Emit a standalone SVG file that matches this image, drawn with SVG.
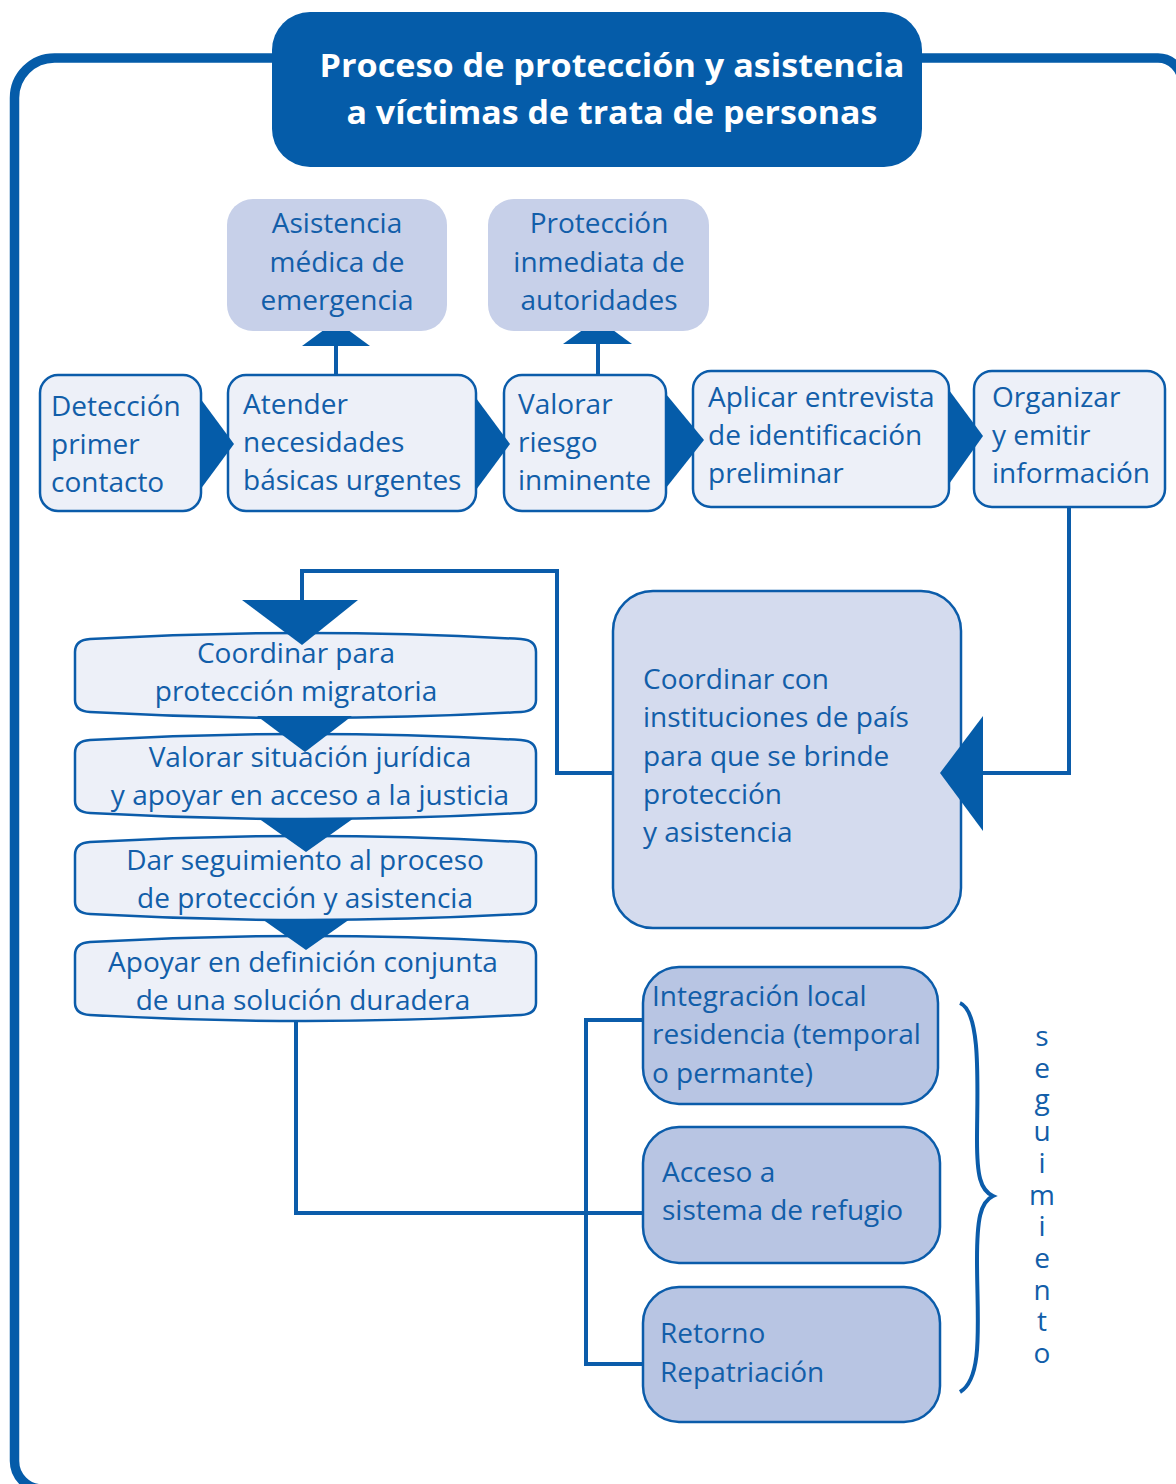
<svg xmlns="http://www.w3.org/2000/svg" width="1176" height="1484" viewBox="0 0 1176 1484">
<style>
.t{font-family:"Open Sans","Noto Sans","Liberation Sans",sans-serif;font-size:28px;fill:#125EA9}
.c{text-anchor:middle}
.title{font-family:"Open Sans","Noto Sans","Liberation Sans",sans-serif;font-size:33px;font-weight:bold;fill:#ffffff;text-anchor:middle}
.node{fill:#EDF0F8;stroke:#0B5CAA;stroke-width:2.5}
.side{fill:#C7D0E9}
.big{fill:#D4DBEE;stroke:#0B5CAA;stroke-width:2.5}
.sol{fill:#B8C5E3;stroke:#0B5CAA;stroke-width:2.5}
.ln{fill:none;stroke:#0B5CAA;stroke-width:4}
.ar{fill:#055CA9}
.vert{writing-mode:vertical-rl;text-orientation:upright;letter-spacing:-6.3px}
</style>
<rect width="1176" height="1484" fill="#ffffff"/>
<g id="frame">
<path d="M14.5,1461 L14.5,98 A40,40 0 0 1 54.5,58 L1158,58 A24,24 0 0 1 1182,82 L1182,1489 L42.5,1489 A28,28 0 0 1 14.5,1461 Z" fill="none" stroke="#055CA9" stroke-width="9.5"/>
</g>
<g id="title">
<rect x="272" y="12" width="650" height="155" rx="38" fill="#055CA9"/>
<text class="title" x="612" y="77" textLength="585" lengthAdjust="spacingAndGlyphs">Proceso de protección y asistencia</text>
<text class="title" x="612" y="124" textLength="531" lengthAdjust="spacingAndGlyphs">a víctimas de trata de personas</text>
</g>
<g id="connectors">
<line class="ln" x1="336" y1="344" x2="336" y2="376"/>
<polygon class="ar" points="302,346 370,346 336,321"/>
<line class="ln" x1="598" y1="342" x2="598" y2="376"/>
<polygon class="ar" points="563,344 632,344 598,319"/>
<polyline class="ln" points="1069,507 1069,773 980,773"/>
<polyline class="ln" points="613,773 557,773 557,571 302,571 302,602"/>
<polyline class="ln" points="296,1020 296,1213 645,1213"/>
<polyline class="ln" points="645,1020 586,1020 586,1364 645,1364"/>
<path d="M960,1003 C982,1012 977,1090 977,1140 C977,1175 980,1190 993,1196 C980,1202 977,1220 977,1260 C977,1320 984,1378 960,1392" fill="none" stroke="#0B5CAA" stroke-width="4"/>
</g>
<g id="n-asistencia">
<rect class="side" x="227" y="199" width="220" height="132" rx="26"/>
<text class="t c" x="337" y="233">Asistencia</text>
<text class="t c" x="337" y="272">médica de</text>
<text class="t c" x="337" y="310">emergencia</text>
</g>
<g id="n-proteccion">
<rect class="side" x="488" y="199" width="221" height="132" rx="26"/>
<text class="t c" x="599" y="233">Protección</text>
<text class="t c" x="599" y="272">inmediata de</text>
<text class="t c" x="599" y="310">autoridades</text>
</g>
<g id="n-deteccion">
<rect class="node" x="40" y="375" width="161" height="136" rx="18"/>
<text class="t" x="51" y="416">Detección</text>
<text class="t" x="51" y="454">primer</text>
<text class="t" x="51" y="492">contacto</text>
</g>
<g id="n-atender">
<rect class="node" x="228" y="375" width="248" height="136" rx="18"/>
<text class="t" x="243" y="414">Atender</text>
<text class="t" x="243" y="452">necesidades</text>
<text class="t" x="243" y="490">básicas urgentes</text>
</g>
<g id="n-valorar">
<rect class="node" x="504" y="375" width="162" height="136" rx="18"/>
<text class="t" x="518" y="414">Valorar</text>
<text class="t" x="518" y="452">riesgo</text>
<text class="t" x="518" y="490">inminente</text>
</g>
<g id="n-aplicar">
<rect class="node" x="693" y="371" width="256" height="136" rx="18"/>
<text class="t" x="708" y="407">Aplicar entrevista</text>
<text class="t" x="708" y="445">de identificación</text>
<text class="t" x="708" y="483">preliminar</text>
</g>
<g id="n-organizar">
<rect class="node" x="974" y="371" width="191" height="136" rx="18"/>
<text class="t" x="992" y="407">Organizar</text>
<text class="t" x="992" y="445">y emitir</text>
<text class="t" x="992" y="483">información</text>
</g>
<g id="h-arrows">
<polygon class="ar" points="200,398 234,444 200,490"/>
<polygon class="ar" points="476,398 510,444 476,490"/>
<polygon class="ar" points="666,394 704,440 666,488"/>
<polygon class="ar" points="949,390 983,436 949,484"/>
</g>
<g id="n-coordinar-inst">
<rect class="big" x="613" y="591" width="348" height="337" rx="40"/>
<text class="t" x="643" y="689">Coordinar con</text>
<text class="t" x="643" y="727">instituciones de país</text>
<text class="t" x="643" y="766">para que se brinde</text>
<text class="t" x="643" y="804">protección</text>
<text class="t" x="643" y="842">y asistencia</text>
</g>
<polygon class="ar" points="983,716 983,831 940,773"/>
<g id="n-migratoria">
<path class="node" d="M75,652 Q75,640 90,639 Q305,627 521,639 Q536,640 536,652 L536,700 Q536,711 521,712 Q305,724 90,712 Q75,711 75,700 Z"/>
<text class="t c" x="296" y="663">Coordinar para</text>
<text class="t c" x="296" y="701">protección migratoria</text>
</g>
<g id="n-juridica">
<path class="node" d="M75,753 Q75,741 90,740 Q305,728 521,740 Q536,741 536,753 L536,801 Q536,812 521,813 Q305,825 90,813 Q75,812 75,801 Z"/>
<text class="t c" x="310" y="767">Valorar situación jurídica</text>
<text class="t c" x="310" y="805">y apoyar en acceso a la justicia</text>
</g>
<g id="n-seguimiento">
<path class="node" d="M75,855 Q75,843 90,842 Q305,830 521,842 Q536,843 536,855 L536,902 Q536,913 521,914 Q305,926 90,914 Q75,913 75,902 Z"/>
<text class="t c" x="305" y="870">Dar seguimiento al proceso</text>
<text class="t c" x="305" y="908">de protección y asistencia</text>
</g>
<g id="n-solucion">
<path class="node" d="M75,955 Q75,943 90,942 Q305,930 521,942 Q536,943 536,955 L536,1003 Q536,1014 521,1015 Q305,1027 90,1015 Q75,1014 75,1003 Z"/>
<text class="t c" x="303" y="972">Apoyar en definición conjunta</text>
<text class="t c" x="303" y="1010">de una solución duradera</text>
</g>
<g id="v-arrows">
<polygon class="ar" points="242,600 358,600 302,645"/>
<polygon class="ar" points="257,716 352,716 305,752"/>
<polygon class="ar" points="258,818 354,818 306,852"/>
<polygon class="ar" points="262,919 350,919 306,950"/>
</g>
<g id="n-integracion">
<rect class="sol" x="643" y="967" width="295" height="137" rx="36"/>
<text class="t" x="652" y="1006">Integración local</text>
<text class="t" x="652" y="1044">residencia (temporal</text>
<text class="t" x="652" y="1083">o permante)</text>
</g>
<g id="n-refugio">
<rect class="sol" x="643" y="1127" width="297" height="136" rx="36"/>
<text class="t" x="662" y="1182">Acceso a</text>
<text class="t" x="662" y="1220">sistema de refugio</text>
</g>
<g id="n-retorno">
<rect class="sol" x="643" y="1287" width="297" height="135" rx="36"/>
<text class="t" x="660" y="1343">Retorno</text>
<text class="t" x="660" y="1382">Repatriación</text>
</g>
<g id="seguimiento-label">
<text class="t vert" x="1042" y="1016">seguimiento</text>
</g>
</svg>
